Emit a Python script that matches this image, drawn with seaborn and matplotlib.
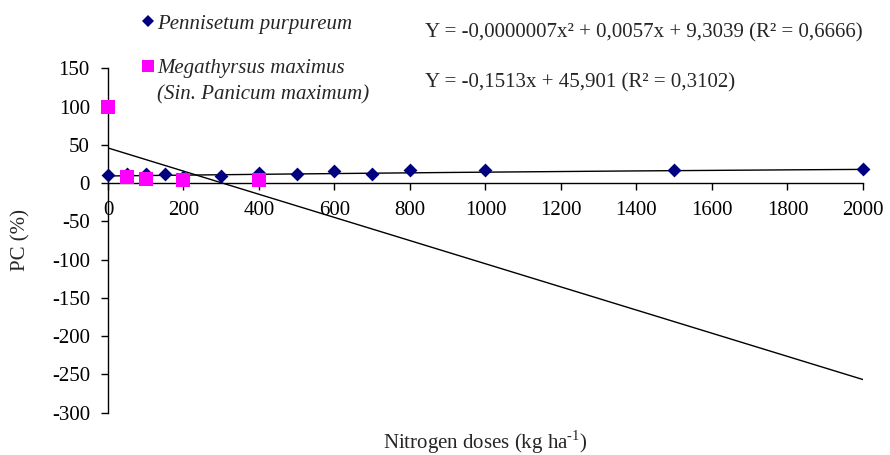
import numpy as np
import pandas as pd
import matplotlib
matplotlib.use("Agg")
import matplotlib.pyplot as plt
from matplotlib.lines import Line2D
import seaborn as sns

# ---- data ----
doses_pennisetum = [0, 50, 100, 150, 200, 300, 400, 500, 600, 700, 800, 1000, 1500, 2000]
pc_pennisetum = [10.5, 11.5, 11.5, 12.5, 8, 9, 13.5, 11.5, 16, 12.5, 16.5, 16.5, 16.5, 19]
doses_megathyrsus = [0, 50, 100, 200, 400]
pc_megathyrsus = [100, 7.7, 5.6, 3.4, 3.4]
quad_coef = [-0.0000007, 0.0057, 9.3039]   # Pennisetum trend
lin_coef = [-0.1513, 45.901]               # Megathyrsus trend
x_ticks = list(range(0, 2001, 200))
y_ticks = list(range(-300, 151, 50))
label_pennisetum = "Pennisetum purpureum"
label_megathyrsus = "Megathyrsus maximus"
label_megathyrsus2 = "(Sin. Panicum maximum)"
eq_quad = "Y = -0,0000007x² + 0,0057x + 9,3039 (R² = 0,6666)"
eq_lin = "Y = -0,1513x + 45,901 (R² = 0,3102)"

sns.set_style("ticks")
plt.rcParams["font.family"] = ["Liberation Serif", "DejaVu Serif"]
plt.rcParams["mathtext.fontset"] = "custom"
plt.rcParams["mathtext.rm"] = "Liberation Serif"
plt.rcParams["axes.unicode_minus"] = False

FS = 15
NAVY = "#000080"
MAG = "#FF00FF"

fig = plt.figure(figsize=(8.9, 4.55), dpi=100)
ax = fig.add_axes([0.1213, 0.0930, 0.8483, 0.7569])

# trendlines
xg = np.linspace(0, 2000, 401)
df_tr = pd.DataFrame({
    "x": np.concatenate([xg, xg]),
    "y": np.concatenate([np.polyval(quad_coef, xg), np.polyval(lin_coef, xg)]),
    "s": ["q"] * len(xg) + ["l"] * len(xg),
})
sns.lineplot(data=df_tr, x="x", y="y", units="s", estimator=None, color="black",
             linewidth=1.0, ax=ax, legend=False, zorder=2)

df_p = pd.DataFrame({"x": doses_pennisetum, "y": pc_pennisetum})
df_m = pd.DataFrame({"x": doses_megathyrsus, "y": pc_megathyrsus})
sns.scatterplot(data=df_p, x="x", y="y", marker="D", s=50, color=NAVY,
                edgecolor=NAVY, linewidth=0, ax=ax, zorder=3, clip_on=False)
sns.scatterplot(data=df_m, x="x", y="y", marker="s", s=112, color=MAG,
                edgecolor=MAG, linewidth=0, ax=ax, zorder=4, clip_on=False)

ax.set_xlim(0, 2000)
ax.set_ylim(-300, 150)
ax.set_xticks(x_ticks)
ax.set_yticks(y_ticks)
ax.spines["top"].set_visible(False)
ax.spines["right"].set_visible(False)
ax.spines["bottom"].set_position(("data", 0))
for sp in ("left", "bottom"):
    ax.spines[sp].set_color("black")
    ax.spines[sp].set_linewidth(1.0)
ax.tick_params(axis="both", direction="out", length=5, width=1, colors="black",
               labelsize=FS)
ax.tick_params(axis="y", pad=8)
ax.tick_params(axis="x", pad=8)

ax.set_xlabel("Nitrogen doses (kg ha$^{\\text{-1}}$)", fontsize=FS)
ax.set_ylabel("PC (%)", fontsize=FS)
ax.xaxis.set_label_coords(0.5, -0.045)
ax.yaxis.set_label_coords(-0.103, 0.5)

handles = [
    Line2D([], [], marker="D", color=NAVY, linestyle="none", markersize=5.8, markeredgewidth=0),
    Line2D([], [], marker="s", color=MAG, linestyle="none", markersize=8.4, markeredgewidth=0),
]
leg = fig.legend(handles, [label_pennisetum, label_megathyrsus], loc="upper left",
                 bbox_to_anchor=(0.1592, 0.969), frameon=False, handlelength=0.6,
                 handletextpad=0.13, labelspacing=1.2, borderpad=0, borderaxespad=0,
                 prop={"family": "Liberation Serif", "style": "italic", "size": FS})
fig.text(157 / 890, 1 - 95 / 455, label_megathyrsus2, fontsize=FS, style="italic",
         ha="left", va="center")

fig.text(425 / 890, 1 - 33 / 455, eq_quad, fontsize=FS, ha="left", va="center")
fig.text(425 / 890, 1 - 83 / 455, eq_lin, fontsize=FS, ha="left", va="center")

fig.savefig("out.png", dpi=100)
